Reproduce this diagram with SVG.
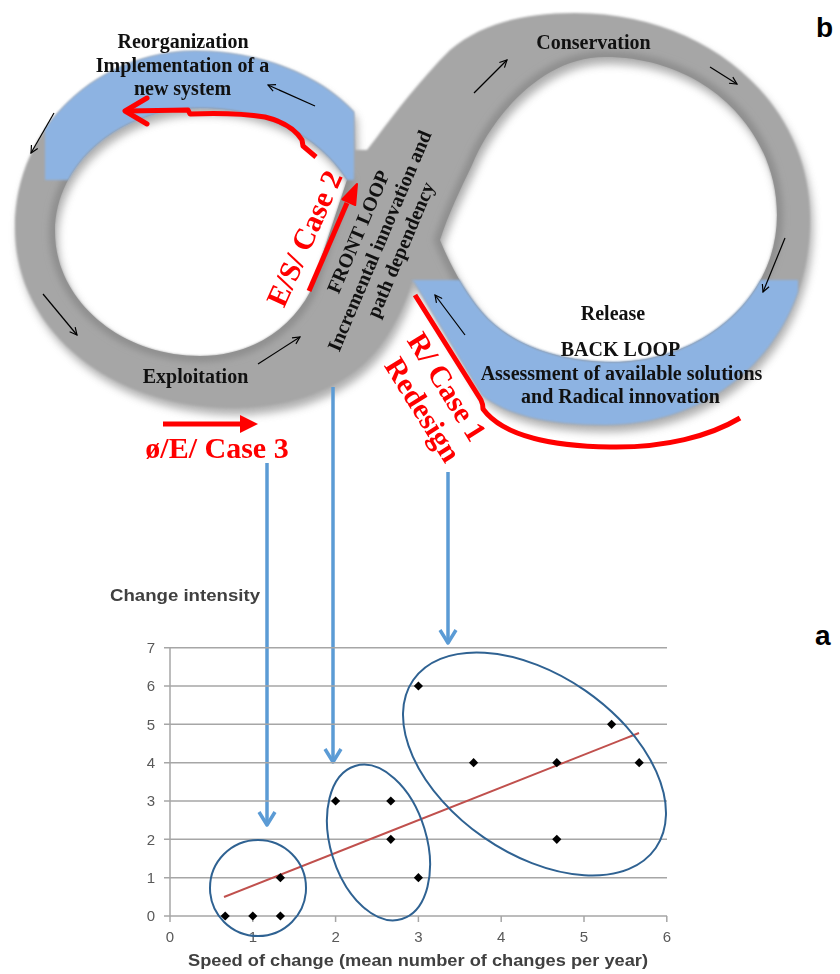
<svg xmlns="http://www.w3.org/2000/svg" width="840" height="974" viewBox="0 0 840 974">
<defs>
<style>
.lbl{font-family:"Liberation Serif","Times New Roman",serif;font-weight:bold;font-size:20px;fill:#111;text-anchor:middle}
.red{font-family:"Liberation Serif","Times New Roman",serif;font-weight:bold;font-size:30px;fill:#ff0000;text-anchor:middle}
.thin{fill:none;stroke:#000;stroke-width:1.2;marker-end:url(#ah)}
.rl{fill:none;stroke:#ff0000;stroke-width:5;stroke-linejoin:round}
.bl{fill:none;stroke:#5b9bd5;stroke-width:3.5;stroke-linejoin:round}
.grid{stroke:#a6a6a6;stroke-width:1.5}
.tick{font-family:"Liberation Sans",Arial,sans-serif;font-size:15px;fill:#595959}
.ytk{text-anchor:end}
.xtk{text-anchor:middle}
.ell{fill:none;stroke:#2f6292;stroke-width:2}
.panel{font-family:"Liberation Sans",Arial,sans-serif;font-weight:bold;font-size:28px;fill:#000}
.axt{font-family:"Liberation Sans",Arial,sans-serif;font-weight:bold;font-size:17px;fill:#404040}
</style>
<marker id="ah" viewBox="0 0 10 10" refX="9" refY="5" markerWidth="9" markerHeight="9" markerUnits="userSpaceOnUse" orient="auto">
<path d="M1,1 L9,5 L1,9" fill="none" stroke="#000" stroke-width="1.3"/>
</marker>
<path id="band" fill-rule="evenodd" d="M367,150 L377,137 C395,113 420,80 450,50 C480,25 520,13 575,13 C705,13 810,100 810,219 C810,340 720,425 605,425 C545,425 505,414 482,395 L413,280 C400,320 380,355 350,375 C320,395 285,407 235,408 C110,408 15,330 15,228 C15,125 100,51 195,51 C260,51 320,75 354,112 L355,150 Z M200,108 C265,108 318,135 347,180 L310,292 C290,330 250,356 200,356 C120,356 55,300 55,232 C55,163 120,108 200,108 Z M605,57 C705,57 777,130 777,215 C777,300 700,362 613,362 C560,362 510,345 482,312 C465,292 450,265 440,240 C448,215 460,190 472,165 C490,120 540,57 605,57 Z"/>
<path id="holes" d="M200,108 C265,108 318,135 347,180 L310,292 C290,330 250,356 200,356 C120,356 55,300 55,232 C55,163 120,108 200,108 Z M605,57 C705,57 777,130 777,215 C777,300 700,362 613,362 C560,362 510,345 482,312 C465,292 450,265 440,240 C448,215 460,190 472,165 C490,120 540,57 605,57 Z"/>
<clipPath id="bandClip"><use href="#band" clip-rule="evenodd"/></clipPath>
<clipPath id="clipL"><rect x="45" y="0" width="309" height="180"/></clipPath>
<clipPath id="clipR"><rect x="412" y="280" width="386" height="200"/></clipPath>
<filter id="soft" x="-5%" y="-5%" width="110%" height="110%"><feGaussianBlur stdDeviation="1.2"/></filter>
<filter id="shd" x="-10%" y="-10%" width="120%" height="120%"><feGaussianBlur stdDeviation="4"/></filter>
<filter id="shd2" x="-10%" y="-10%" width="120%" height="120%"><feGaussianBlur stdDeviation="3"/></filter>
<path id="dm" d="M0,-4.6 L4.6,0 L0,4.6 L-4.6,0 Z" fill="#000"/>
</defs>
<rect width="840" height="974" fill="#fff"/>

<g id="figure-eight">
<use href="#band" fill="#7a7a7a" opacity="0.6" transform="translate(3,7)" filter="url(#shd)"/>
<use href="#band" fill="#a6a6a6" filter="url(#soft)"/>
<g clip-path="url(#bandClip)">
<use href="#holes" fill="none" stroke="#8f8f8f" stroke-width="12" filter="url(#shd2)"/>
</g>
<g filter="url(#soft)">
<use href="#band" fill="#8db3e2" clip-path="url(#clipL)"/>
<use href="#band" fill="#8db3e2" clip-path="url(#clipR)"/>
</g>
</g>

<g id="cycle-arrows">
<path class="thin" d="M54,113 L31,153"/>
<path class="thin" d="M315,106 L268,85"/>
<path class="thin" d="M474,93 L507,60"/>
<path class="thin" d="M710,67 L737,84"/>
<path class="thin" d="M785,238 L763,292"/>
<path class="thin" d="M465,335 L435,295"/>
<path class="thin" d="M43,294 L77,335"/>
<path class="thin" d="M258,364 L300,337"/>
</g>

<g id="node-reorganization">
<text class="lbl" x="183" y="48">Reorganization</text>
<text class="lbl" x="182.5" y="72">Implementation of a</text>
<text class="lbl" x="182.5" y="95">new system</text>
</g>
<g id="node-conservation">
<text class="lbl" x="593.5" y="49">Conservation</text>
</g>
<g id="node-release">
<text class="lbl" x="613" y="320">Release</text>
<text class="lbl" x="620.5" y="356">BACK LOOP</text>
<text class="lbl" x="621.5" y="380">Assessment of available solutions</text>
<text class="lbl" x="620.5" y="403">and Radical innovation</text>
</g>
<g id="node-exploitation">
<text class="lbl" x="195.5" y="383">Exploitation</text>
</g>
<g id="node-front-loop" transform="translate(380,241) rotate(-67)">
<text class="lbl" x="0" y="-17">FRONT LOOP</text>
<text class="lbl" x="0" y="6">Incremental innovation and</text>
<text class="lbl" x="0" y="29">path dependency</text>
</g>

<g id="case2">
<path class="rl" d="M316,157 L303,146 L302,140 C296,130 285,122 265,117 C240,113 215,113 190,114 L188,110 L127,111"/>
<path class="rl" d="M147,98 L125,111 L147,124" stroke-linecap="round"/>
<path class="rl" d="M309,291 L347,203"/>
<path d="M357,184 L355.2,205.1 L342.4,199.3 Z" fill="#ff0000" stroke="#ff0000" stroke-width="2" stroke-linejoin="round"/>
<text class="red" transform="translate(313.6,242.6) rotate(-66)">E/S/ Case 2</text>
</g>
<g id="case3">
<path class="rl" d="M163,424 L243,424"/>
<path d="M258,424 L240,415 L240,433 Z" fill="#ff0000"/>
<text class="red" x="217" y="458">ø/E/ Case 3</text>
</g>
<g id="case1">
<path class="rl" stroke-width="4.5" d="M415,295 L481,400 Q483,404 483,409 C500,432 540,446 610,447 C665,448 710,436 740,418"/>
<text class="red" transform="translate(438.5,392) rotate(58)">R/ Case 1</text>
<text class="red" transform="translate(414.5,415) rotate(58)">Redesign</text>
</g>

<g id="connectors">
<path class="bl" d="M267,463 L267,824"/>
<path class="bl" d="M259,812 L267,825 L275,812"/>
<path class="bl" d="M333,387 L333,761"/>
<path class="bl" d="M325,749 L333,762 L341,749"/>
<path class="bl" d="M448,472 L448,642"/>
<path class="bl" d="M440,630 L448,643 L456,630"/>
</g>

<g id="chart">
<g id="gridlines">
<line class="grid" x1="170" y1="647.7" x2="667" y2="647.7"/>
<line class="grid" x1="170" y1="686" x2="667" y2="686"/>
<line class="grid" x1="170" y1="724.3" x2="667" y2="724.3"/>
<line class="grid" x1="170" y1="762.7" x2="667" y2="762.7"/>
<line class="grid" x1="170" y1="801" x2="667" y2="801"/>
<line class="grid" x1="170" y1="839.3" x2="667" y2="839.3"/>
<line class="grid" x1="170" y1="877.7" x2="667" y2="877.7"/>
<path class="grid" d="M164,916 L667,916 M170,647.7 L170,922 M164,647.7 L170,647.7 M164,686 L170,686 M164,724.3 L170,724.3 M164,762.7 L170,762.7 M164,801 L170,801 M164,839.3 L170,839.3 M164,877.7 L170,877.7 M252.8,916 L252.8,922 M335.6,916 L335.6,922 M418.4,916 L418.4,922 M501.2,916 L501.2,922 M584,916 L584,922 M666.8,916 L666.8,922"/>
</g>
<g id="y-labels" class="tick ytk">
<text x="155" y="653">7</text>
<text x="155" y="691">6</text>
<text x="155" y="729.5">5</text>
<text x="155" y="768">4</text>
<text x="155" y="806">3</text>
<text x="155" y="844.5">2</text>
<text x="155" y="883">1</text>
<text x="155" y="921">0</text>
</g>
<g id="x-labels" class="tick xtk">
<text x="170" y="942">0</text>
<text x="252.8" y="942">1</text>
<text x="335.6" y="942">2</text>
<text x="418.4" y="942">3</text>
<text x="501.2" y="942">4</text>
<text x="584" y="942">5</text>
<text x="666.8" y="942">6</text>
</g>
<text class="axt" x="110" y="601" textLength="150" lengthAdjust="spacingAndGlyphs">Change intensity</text>
<text class="axt" x="188" y="966" textLength="460" lengthAdjust="spacingAndGlyphs">Speed of change (mean number of changes per year)</text>
<line x1="224" y1="897" x2="639" y2="733" stroke="#c0504d" stroke-width="2"/>
<g id="points">
<use href="#dm" x="225.2" y="916"/>
<use href="#dm" x="252.8" y="916"/>
<use href="#dm" x="280.4" y="916"/>
<use href="#dm" x="280.4" y="877.7"/>
<use href="#dm" x="335.6" y="801"/>
<use href="#dm" x="390.8" y="801"/>
<use href="#dm" x="390.8" y="839.3"/>
<use href="#dm" x="418.4" y="877.7"/>
<use href="#dm" x="418.4" y="686"/>
<use href="#dm" x="473.6" y="762.7"/>
<use href="#dm" x="556.8" y="762.7"/>
<use href="#dm" x="556.8" y="839.3"/>
<use href="#dm" x="611.6" y="724.3"/>
<use href="#dm" x="639.2" y="762.7"/>
</g>
<g id="clusters">
<circle class="ell" cx="258" cy="888" r="48"/>
<ellipse class="ell" cx="378.5" cy="842.5" rx="48" ry="80" transform="rotate(-17 378.5 842.5)"/>
<ellipse class="ell" cx="534.5" cy="764" rx="147.5" ry="89.3" transform="rotate(34.7 534.5 764)"/>
</g>
</g>

<text class="panel" x="816" y="37">b</text>
<text class="panel" x="815" y="645">a</text>
</svg>
